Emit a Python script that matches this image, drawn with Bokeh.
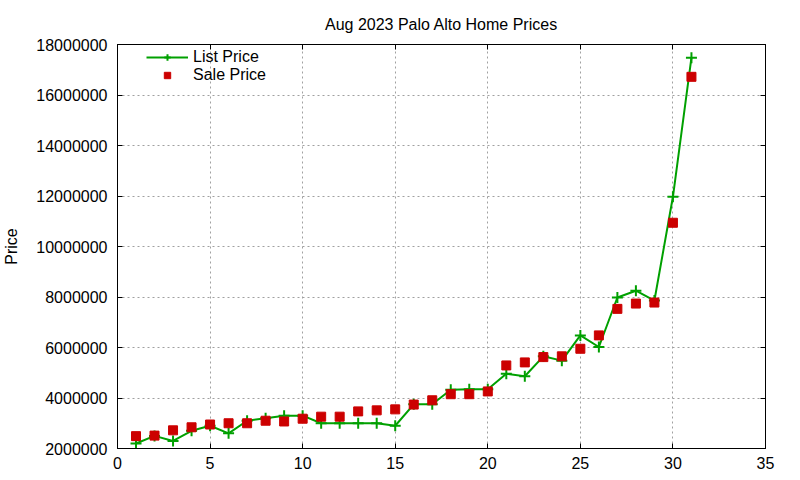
from bokeh.embed import file_html
from bokeh.models import (BasicTickFormatter, CustomJSTickFormatter, FixedTicker,
                          Legend, LegendItem, LinearAxis, Range1d)
from bokeh.plotting import figure
from bokeh.resources import INLINE

# day of month (x) and prices
days = list(range(1, 32))
list_price = [2200000, 2500000, 2300000, 2700000, 2900000, 2600000, 3100000, 3200000,
              3300000, 3300000, 3000000, 3000000, 3000000, 3000000, 2900000, 3750000,
              3750000, 4330000, 4350000, 4350000, 4960000, 4860000, 5650000, 5480000,
              6480000, 6020000, 7980000, 8250000, 7860000, 11970000, 17480000]
sale_price = [2490000, 2510000, 2720000, 2840000, 2950000, 3000000, 3000000, 3100000,
              3070000, 3180000, 3260000, 3260000, 3470000, 3510000, 3550000, 3740000,
              3910000, 4150000, 4150000, 4260000, 5290000, 5410000, 5620000, 5650000,
              5950000, 6480000, 7530000, 7740000, 7780000, 10940000, 16720000]

x_ticks = [0, 5, 10, 15, 20, 25, 30, 35]
y_ticks = [2000000, 4000000, 6000000, 8000000, 10000000, 12000000,
           14000000, 16000000, 18000000]

FONT = "Liberation Sans"
GREEN = "#00a000"
RED = "#cc0000"

p = figure(frame_width=648, frame_height=404, output_backend="svg",
           toolbar_location=None,
           x_range=Range1d(0, 35), y_range=Range1d(2000000, 18000000),
           min_border_left=110, min_border_right=18,
           min_border_top=44, min_border_bottom=24)

p.title.text = "Aug 2023 Palo Alto Home Prices"
p.title.align = "center"
p.title.standoff = 24
p.title.text_font = FONT
p.title.text_font_size = "16px"
p.title.text_font_style = "normal"
p.title.text_color = "black"

p.outline_line_color = "black"
p.outline_line_width = 1
p.background_fill_color = "white"
p.border_fill_color = "white"

p.xaxis.ticker = FixedTicker(ticks=x_ticks)
p.yaxis.ticker = FixedTicker(ticks=y_ticks)
p.yaxis.formatter = BasicTickFormatter(use_scientific=False)
p.yaxis.axis_label = "Price"
p.yaxis.axis_label_standoff = 13
p.yaxis.axis_label_text_font = FONT
p.yaxis.axis_label_text_font_size = "16px"
p.yaxis.axis_label_text_font_style = "normal"
p.yaxis.axis_label_text_color = "black"
p.yaxis.major_label_standoff = 10
p.xaxis.major_label_standoff = 8

# mirror axes like gnuplot, ticks only
blank = CustomJSTickFormatter(code="return ''")
right_ax = LinearAxis(ticker=FixedTicker(ticks=y_ticks), formatter=blank,
                      major_label_standoff=0)
top_ax = LinearAxis(ticker=FixedTicker(ticks=x_ticks), formatter=blank,
                    major_label_standoff=0)
p.add_layout(right_ax, "right")
p.add_layout(top_ax, "above")

for ax in p.axis:
    ax.major_tick_in = 5
    ax.major_tick_out = 0
    ax.minor_tick_line_color = None
    ax.axis_line_color = "black"
    ax.major_tick_line_color = "black"
    ax.major_label_text_font = FONT
    ax.major_label_text_font_size = "16px"
    ax.major_label_text_color = "black"

for g in p.grid:
    g.grid_line_color = "#a0a0a0"
    g.grid_line_dash = "2 3"
    g.grid_line_width = 1
p.xgrid.ticker = FixedTicker(ticks=x_ticks)
p.ygrid.ticker = FixedTicker(ticks=y_ticks)

list_line = p.line(days, list_price, line_color=GREEN, line_width=2)
list_pts = p.scatter(days, list_price, marker="cross", size=11,
                     line_color=GREEN, line_width=2)
sale_pts = p.scatter(days, sale_price, marker="square", size=9,
                     fill_color=RED, line_color=RED)

legend = Legend(items=[LegendItem(label="List Price", renderers=[list_line, list_pts]),
                       LegendItem(label="Sale Price", renderers=[sale_pts])],
                location=(29, 364))
legend.background_fill_alpha = 0
legend.border_line_color = None
legend.padding = 3
legend.margin = 0
legend.spacing = 0
legend.glyph_width = 42
legend.glyph_height = 16
legend.label_height = 16
legend.label_text_font = FONT
legend.label_text_font_size = "16px"
legend.label_text_color = "black"
p.add_layout(legend, "center")

open("out.html", "w").write(file_html(p, INLINE))
